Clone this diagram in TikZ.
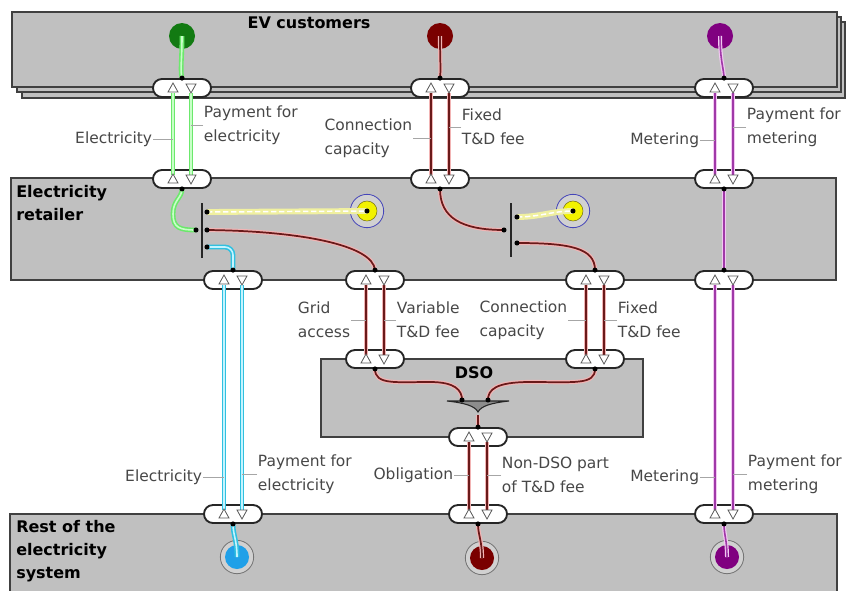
\documentclass[tikz,border=0pt]{standalone}
\usepackage{fontspec}
\setmainfont{DejaVu Sans}
\usetikzlibrary{calc}

\definecolor{boxgray}{HTML}{C0C0C0}
\definecolor{gEdge}{HTML}{6CE86C}
\definecolor{gCore}{HTML}{C8FFC8}
\definecolor{gDot}{HTML}{127A12}
\definecolor{brEdge}{HTML}{F2B4B4}
\definecolor{brCore}{HTML}{6A1A1A}
\definecolor{brDot}{HTML}{7A0000}
\definecolor{puEdge}{HTML}{F2C8F2}
\definecolor{puCore}{HTML}{A038A8}
\definecolor{puDot}{HTML}{800080}
\definecolor{cyEdge}{HTML}{30C0E0}
\definecolor{cyCore}{HTML}{C4F4FF}
\definecolor{cyDot}{HTML}{20A0E8}
\definecolor{yeEdge}{HTML}{F0F0A0}
\definecolor{yeDot}{HTML}{F2F200}

\begin{document}
\begin{tikzpicture}[x=0.75pt, y=-0.75pt,
  box/.style={draw=black!75, line width=1.4pt, fill=boxgray},
  port/.style={draw=black!85, line width=1.4pt, fill=white, rounded corners=6.7pt, minimum width=43.5pt, minimum height=13.5pt, inner sep=0pt},
  src/.style={circle, minimum size=19.5pt, inner sep=0pt},
  sink/.style={circle, draw=black!55, fill=black!18, line width=0.6pt, minimum size=25pt, inner sep=0pt},
  lbl/.style={font=\fontsize{11.6}{18}\selectfont, text=black!72, inner sep=0.5pt, align=left},
  ttl/.style={font=\bfseries\fontsize{12}{17.5}\selectfont, inner sep=0pt, align=left},
  leader/.style={draw=black!35, line width=0.5pt},
  tri/.style={draw=black!65, fill=white, line width=0.6pt},
  bar/.style={draw=black!85, line width=0.9pt},
  gflow/.style={draw=gEdge, double=gCore, line width=1.2pt, double distance=1.2pt},
  bflow/.style={draw=brEdge, double=brCore, line width=0.9pt, double distance=1.3pt},
  pflow/.style={draw=puEdge, double=puCore, line width=0.9pt, double distance=1.2pt},
  cflow/.style={draw=cyEdge, double=cyCore, line width=1.2pt, double distance=1.2pt},
  yflow/.style={draw=yeEdge, line width=4.4pt, postaction={draw=white, line width=1.1pt, dash pattern=on 4pt off 2pt}}]
\useasboundingbox[fill=white] (0,0) rectangle (848,590);

% boxes
\draw[box] (22,22) rectangle (845,98);
\draw[box] (17,17) rectangle (841,92);
\draw[box] (12,12) rectangle (837,87);
\draw[box] (11,178) rectangle (836,280);
\draw[box] (321,359) rectangle (643,437);
\draw[box] (10,514) rectangle (837,600);
\node[ttl] (tEV) at (309,23) {EV customers};
\node[ttl, anchor=west] (tRet) at (16,203) {Electricity\\retailer};
\node[ttl, anchor=west] (tRest) at (16,551) {Rest of the\\electricity\\system};
\node[ttl] (tDSO) at (474,373) {DSO};

% sources and sinks
\node[src, fill=gDot] (cG) at (182,36) {};
\node[src, fill=brDot] (cB) at (440,36) {};
\node[src, fill=puDot] (cP) at (720,36) {};
\node[sink, draw=blue!45!gray] (yR1) at (367,211) {};
\node[circle, fill=yeDot, draw=olive!80!black, minimum size=15pt, inner sep=0pt] at (yR1) {};
\node[sink, draw=blue!45!gray] (yR2) at (573,211) {};
\node[circle, fill=yeDot, draw=olive!80!black, minimum size=15pt, inner sep=0pt] at (yR2) {};
\node[sink] (sA) at (237,557) {};
\node[circle, fill=cyDot, minimum size=18pt, inner sep=0pt] at (sA) {};
\node[sink] (sF) at (482,558) {};
\node[circle, fill=brDot, minimum size=18pt, inner sep=0pt] at (sF) {};
\node[sink] (sC) at (727,557) {};
\node[circle, fill=puDot, minimum size=18pt, inner sep=0pt] at (sC) {};

% ports
\node[port] (evA) at (182,88) {};
\node[port] (evB) at (440,88) {};
\node[port] (evC) at (724,88) {};
\node[port] (rtA) at (182,179) {};
\node[port] (rtB) at (440,179) {};
\node[port] (rtC) at (724,179) {};
\node[port] (rbA) at (233,280) {};
\node[port] (rbD) at (375,280) {};
\node[port] (rbE) at (595,280) {};
\node[port] (rbC) at (724,280) {};
\node[port] (dtD) at (375,359) {};
\node[port] (dtE) at (595,359) {};
\node[port] (dbF) at (478,437) {};
\node[port] (rsA) at (233,514) {};
\node[port] (rsF) at (478,514) {};
\node[port] (rsC) at (724,514) {};

% junctions
\draw[bar] (202,203) -- (202,258);
\draw[bar] (511,203) -- (511,257);
\coordinate (j1y) at (207,212);
\coordinate (j1g) at (196,230);
\coordinate (j1b) at (207,230);
\coordinate (j1c) at (207,247);
\coordinate (j2b) at (504,230);
\coordinate (j2y) at (517,217);
\coordinate (j2e) at (517,243);
\draw[draw=black!85, fill=black!45, line width=0.8pt] (447,401) .. controls (465,403) and (475,406) .. (478,412) .. controls (481,406) and (491,403) .. (509,401) -- cycle;
\coordinate (mD) at (462,400);
\coordinate (mE) at (488,400);
\coordinate (mOut) at (478,415);

% wires inside the boxes
\draw[gflow] (cG.center) .. controls (182,60) and (180,70) .. (evA.north);
\draw[bflow] (cB.center) .. controls (440,60) and (441,70) .. (evB.north);
\draw[pflow] (cP.center) .. controls (720,60) and (724,70) .. (evC.north);
\draw[gflow] (rtA.south) .. controls (182,198) and (173,200) .. (173,214) .. controls (173,228) and (180,230) .. (j1g);
\draw[yflow] (j1y) -- (yR1.center);
\draw[bflow] (j1b) .. controls (300,231) and (373,245) .. (rbD.north);
\draw[cflow, rounded corners=6pt] (j1c) -| (rbA.north);
\draw[bflow] (rtB.south) .. controls (440,218) and (462,230) .. (j2b);
\draw[yflow] (j2y) .. controls (540,217) and (552,211) .. (yR2.center);
\draw[bflow] (j2e) .. controls (570,243) and (595,248) .. (rbE.north);
\draw[pflow] (rtC.south) -- (rbC.north);
\draw[bflow] (dtD.south) .. controls (375,385) and (395,382) .. (430,382) .. controls (455,382) and (462,390) .. (mD);
\draw[bflow] (dtE.south) .. controls (595,385) and (575,382) .. (530,382) .. controls (495,382) and (488,390) .. (mE);
\draw[bflow] (mOut) -- (dbF.north);
\draw[cflow] (rsA.south) .. controls (233,535) and (237,540) .. (sA.center);
\draw[bflow] (rsF.south) .. controls (478,535) and (482,540) .. (sF.center);
\draw[pflow] (rsC.south) .. controls (724,535) and (727,540) .. (sC.center);

% flows between the boxes
\foreach \t/\b/\s in {evA/rtA/gflow, evB/rtB/bflow, evC/rtC/pflow, rbA/rsA/cflow, rbD/dtD/bflow, rbE/dtE/bflow, dbF/rsF/bflow, rbC/rsC/pflow} {
  \draw[\s] ($(\t)+(-9,4.5)$) -- ($(\b)+(-9,-4.5)$);
  \draw[\s] ($(\t)+(9,4.5)$) -- ($(\b)+(9,-4.5)$);
}
\foreach \p in {evA,evB,evC,rtA,rtB,rtC,rbA,rbD,rbE,rbC,dtD,dtE,dbF,rsA,rsF,rsC} {
  \draw[tri] ($(\p)+(-14,4)$) -- ($(\p)+(-4,4)$) -- ($(\p)+(-9,-5)$) -- cycle;
  \draw[tri] ($(\p)+(4,-4)$) -- ($(\p)+(14,-4)$) -- ($(\p)+(9,5)$) -- cycle;
}
\foreach \d in {evA.north,evB.north,evC.north,rtA.south,rtB.south,rtC.south,rbA.north,rbD.north,rbE.north,rbC.north,dtD.south,dtE.south,dbF.north,rsA.south,rsF.south,rsC.south,j1y,j1g,j1b,j1c,j2b,j2y,j2e,mD,mE,yR1.center,yR2.center}
  \fill (\d) circle (1.9pt);

% labels
\node[lbl, anchor=east] (lA1) at (153,139) {Electricity};
\node[lbl, anchor=west] (lA2) at (203,125) {Payment for\\electricity};
\node[lbl, anchor=east] (lB1) at (413,138) {Connection\\capacity};
\node[lbl, anchor=west] (lB2) at (461,127) {Fixed\\T\&D fee};
\node[lbl, anchor=east] (lC1) at (700,140) {Metering};
\node[lbl, anchor=west] (lC2) at (746,127) {Payment for\\metering};
\node[lbl, anchor=east] (lD1) at (351,320) {Grid\\access};
\node[lbl, anchor=west] (lD2) at (396,320) {Variable\\T\&D fee};
\node[lbl, anchor=east] (lE1) at (568,320) {Connection\\capacity};
\node[lbl, anchor=west] (lE2) at (617,320) {Fixed\\T\&D fee};
\node[lbl, anchor=east] (lA3) at (203,477) {Electricity};
\node[lbl, anchor=west] (lA4) at (257,474) {Payment for\\electricity};
\node[lbl, anchor=east] (lF1) at (454,475) {Obligation};
\node[lbl, anchor=west] (lF2) at (501,475) {Non-DSO part\\of T\&D fee};
\node[lbl, anchor=east] (lC3) at (700,477) {Metering};
\node[lbl, anchor=west] (lC4) at (747,474) {Payment for\\metering};
\foreach \l/\p in {lA1/evA, lB1/evB, lC1/evC, lD1/rbD, lE1/rbE, lA3/rbA, lF1/dbF, lC3/rbC}
  \draw[leader] (\l.east) -- ($(\l.east -| \p)+(-9,0)$);
\foreach \l/\p in {lA2/evA, lB2/evB, lC2/evC, lD2/rbD, lE2/rbE, lA4/rbA, lF2/dbF, lC4/rbC}
  \draw[leader] (\l.west) -- ($(\l.west -| \p)+(9,0)$);
\end{tikzpicture}
\end{document}
